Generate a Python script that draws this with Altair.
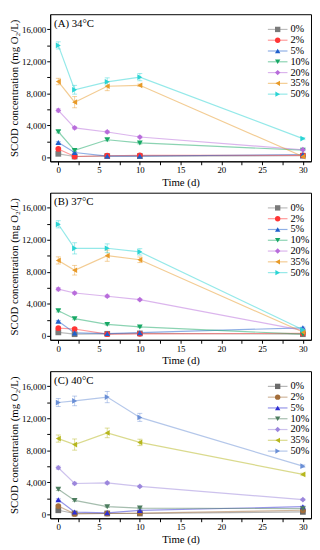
import altair as alt
import pandas as pd

TIMES = [0, 2, 6, 10, 30]
SERIES = ["0%", "2%", "5%", "10%", "20%", "35%", "50%"]
SHAPES = ["square", "circle", "triangle-up", "triangle-down", "diamond", "triangle-left", "triangle-right"]

COLORS_AB = ["#7a7a7a", "#ff3535", "#1f5fcc", "#17a865", "#b86cdb", "#e89a28", "#2ad4d4"]
COLORS_C = ["#6b6b6b", "#a36d3a", "#2e2ed2", "#4c7c5e", "#9b86dc", "#b6b61c", "#6a8fd6"]

# Panel A, 34 C
A_0 = [440, 100, 150, 150, 200]
A_2 = [1050, 100, 200, 250, 250]
A_5 = [1850, 600, 150, 150, 350]
A_10 = [3200, 870, 2200, 1800, 900]
A_20 = [5870, 3690, 3170, 2540, 950]
A_35 = [9480, 6900, 8890, 9010, 100]
A_50 = [14000, 8450, 9440, 10030, 2340]
A_ERR = [[60, 30, 30, 30, 30], [80, 30, 40, 40, 40], [100, 80, 30, 30, 50],
         [150, 100, 150, 120, 80], [200, 150, 150, 120, 80],
         [400, 700, 550, 150, 60], [450, 550, 500, 450, 120]]

# Panel B, 37 C
B_0 = [430, 200, 250, 300, 200]
B_2 = [950, 850, 200, 250, 300]
B_5 = [1820, 360, 270, 390, 1000]
B_10 = [3130, 2140, 1430, 1110, 200]
B_20 = [5830, 5350, 4950, 4520, 670]
B_35 = [9430, 8200, 10020, 9510, 470]
B_50 = [13950, 10940, 10950, 10500, 750]
B_ERR = [[60, 40, 40, 40, 30], [80, 60, 40, 40, 40], [100, 60, 40, 50, 80],
         [150, 120, 100, 80, 40], [200, 150, 150, 120, 80],
         [450, 600, 700, 350, 60], [450, 700, 550, 400, 80]]

# Panel C, 40 C
C_0 = [500, 100, 100, 100, 300]
C_2 = [1030, 50, 100, 150, 500]
C_5 = [1820, 280, 180, 480, 950]
C_10 = [3120, 1740, 950, 780, 700]
C_20 = [5820, 3850, 3920, 3490, 1830]
C_35 = [9470, 8720, 10180, 8990, 4990]
C_50 = [13980, 14180, 14660, 12120, 6020]
C_ERR = [[60, 30, 30, 30, 40], [80, 30, 30, 30, 50], [100, 50, 40, 60, 80],
         [150, 120, 100, 80, 60], [200, 150, 150, 120, 100],
         [450, 700, 600, 400, 150], [500, 600, 700, 500, 150]]

W = 266
H = 150
FONT = "Liberation Serif"
LEG_FIRST = 15.5
LEG_PITCH = 11


def build_df(series_values, errs):
    rows = []
    for s, vals, e in zip(SERIES, series_values, errs):
        for t, v, d in zip(TIMES, vals, e):
            rows.append({"series": s, "time": t, "value": v, "lo": v - d, "hi": v + d})
    return pd.DataFrame(rows)


def panel(label, series_values, errs, colors):
    df = build_df(series_values, errs)
    x = alt.X("time:Q", scale=alt.Scale(domain=[-1, 31], nice=False, zero=False),
              axis=alt.Axis(values=[0, 2.5, 5, 7.5, 10, 12.5, 15, 17.5, 20, 22.5, 25, 27.5, 30],
                            labelExpr="datum.value % 5 == 0 ? datum.label : ''",
                            title="Time (d)"))
    yscale = alt.Scale(domain=[-500, 17900], nice=False, zero=False)
    yaxis = alt.Axis(values=[0, 2000, 4000, 6000, 8000, 10000, 12000, 14000, 16000],
                     labelExpr="datum.value % 4000 == 0 ? format(datum.value, ',') : ''",
                     title="SCOD concentration (mg O\u2082/L)")
    stroke = alt.Stroke("series:N", scale=alt.Scale(domain=SERIES, range=colors), legend=None)
    fill = alt.Fill("series:N", scale=alt.Scale(domain=SERIES, range=colors), legend=None)
    shape = alt.Shape("series:N", scale=alt.Scale(domain=SERIES, range=SHAPES), legend=None)

    base = alt.Chart(df).encode(x=x)
    err = base.mark_rule(strokeWidth=1, opacity=0.45).encode(
        y=alt.Y("lo:Q", scale=yscale, axis=yaxis), y2="hi:Q", stroke=stroke)
    cap_hi = base.mark_point(shape="stroke", size=25, filled=False, strokeWidth=1, opacity=0.45).encode(
        y=alt.Y("hi:Q", scale=yscale, axis=yaxis), stroke=stroke)
    cap_lo = base.mark_point(shape="stroke", size=25, filled=False, strokeWidth=1, opacity=0.45).encode(
        y=alt.Y("lo:Q", scale=yscale, axis=yaxis), stroke=stroke)
    line = base.mark_line(strokeWidth=1.2, opacity=0.5).encode(
        y=alt.Y("value:Q", scale=yscale, axis=yaxis), stroke=stroke)
    pts = base.mark_point(filled=True, size=34, opacity=1).encode(
        y=alt.Y("value:Q", scale=yscale, axis=yaxis), fill=fill, shape=shape)
    data_layer = alt.layer(err, cap_hi, cap_lo, line, pts)

    # legend (inside, top right)
    leg_df = pd.DataFrame({"series": SERIES, "idx": list(range(len(SERIES)))})
    ly = alt.Y("idx:Q", scale=alt.Scale(domain=[0, len(SERIES) - 1],
                                         range=[LEG_FIRST, LEG_FIRST + LEG_PITCH * (len(SERIES) - 1)]),
               axis=None)
    lbase = alt.Chart(leg_df).encode(y=ly)
    leg_line = lbase.mark_rule(strokeWidth=1.2, opacity=0.5).encode(
        x=alt.value(W - 44), x2=alt.value(W - 24), stroke=stroke)
    leg_pt = lbase.mark_point(filled=True, size=30, opacity=1).encode(
        x=alt.value(W - 34), fill=fill, shape=shape)
    leg_txt = lbase.mark_text(align="left", baseline="middle", font=FONT, fontSize=10.5,
                              color="black", dx=0).encode(x=alt.value(W - 21), text="series:N")
    title_txt = lbase.transform_filter("datum.idx == 0").mark_text(
        align="left", baseline="middle", font=FONT, fontSize=11, color="black").encode(
        x=alt.value(4), y=alt.value(10), text=alt.value(label))
    legend_layer = alt.layer(leg_line, leg_pt, leg_txt, title_txt)

    return alt.layer(data_layer, legend_layer).resolve_scale(y="independent").properties(
        width=W, height=H)


pa = panel("(A) 34\u00b0C", [A_0, A_2, A_5, A_10, A_20, A_35, A_50], A_ERR, COLORS_AB)
pb = panel("(B) 37\u00b0C", [B_0, B_2, B_5, B_10, B_20, B_35, B_50], B_ERR, COLORS_AB)
pc = panel("(C) 40\u00b0C", [C_0, C_2, C_5, C_10, C_20, C_35, C_50], C_ERR, COLORS_C)

chart = alt.vconcat(pa, pb, pc, spacing=4).resolve_scale(
    stroke="independent", fill="independent", shape="independent"
).properties(
    padding={"left": 0, "top": 0, "right": 0, "bottom": 0}
).configure_view(
    stroke="black", strokeWidth=1
).configure_axis(
    grid=False, domainColor="black", tickColor="black", labelColor="black", titleColor="black",
    labelFont=FONT, titleFont=FONT, labelFontSize=9, titleFontSize=11, titleFontWeight="normal",
    tickSize=3.5, labelPadding=1, titlePadding=2
)

chart.save("out.html", embed_options={"renderer": "svg", "actions": False})
